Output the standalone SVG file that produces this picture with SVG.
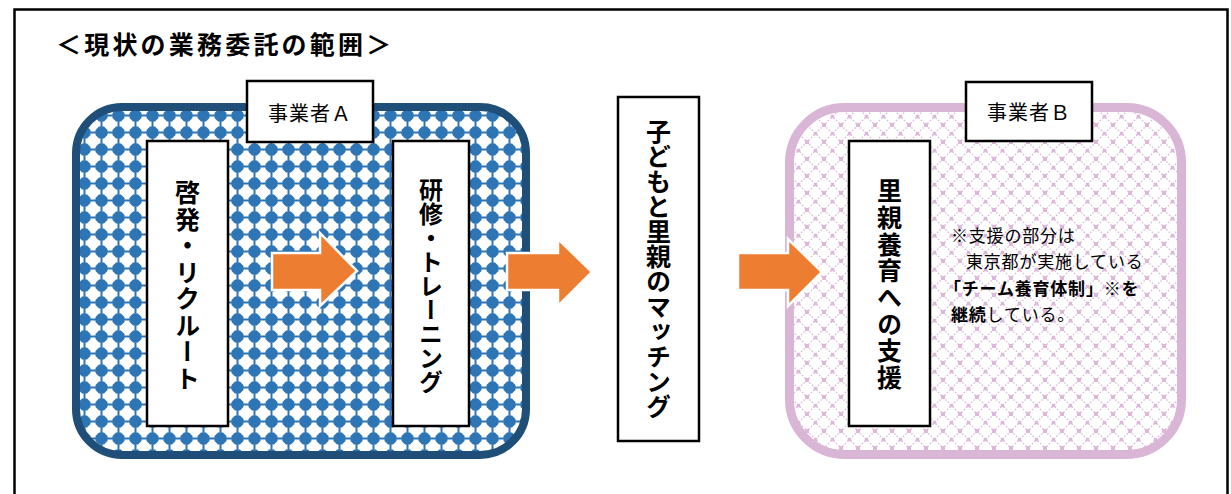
<svg xmlns="http://www.w3.org/2000/svg" width="1231" height="494" viewBox="0 0 1231 494">
<style>
.t{font-family:"Noto Sans CJK JP","Noto Sans CJK SC",sans-serif;fill:#000}
.b{font-weight:bold}
.v{writing-mode:vertical-rl;font-weight:bold;text-anchor:middle}
.box{fill:#fff;stroke:#000;stroke-width:2.5}
.arrow{fill:#ED7D31;stroke:#fff;stroke-width:2.5;stroke-linejoin:miter}
</style>
<defs>
<pattern id="pb" width="17" height="17" patternUnits="userSpaceOnUse" x="76" y="107">
<rect width="17" height="17" fill="#fff"/>
<rect x="0" y="7.5" width="17" height="2" fill="#2E75B6"/>
<rect x="7.5" y="0" width="2" height="17" fill="#2E75B6"/>
<polygon points="6,2.5 11,2.5 14.5,6 14.5,11 11,14.5 6,14.5 2.5,11 2.5,6" fill="#2E75B6"/>
</pattern>
<pattern id="pp" width="17" height="17" patternUnits="userSpaceOnUse" x="790" y="108">
<rect width="17" height="17" fill="#fff"/>
<path d="M0 0L17 17M17 0L0 17" stroke="#DDB8DA" stroke-width="1.4" stroke-dasharray="1.5 1.9"/>
<rect x="-2" y="-2" width="4" height="4" fill="#DDB8DA"/>
<rect x="15" y="-2" width="4" height="4" fill="#DDB8DA"/>
<rect x="-2" y="15" width="4" height="4" fill="#DDB8DA"/>
<rect x="15" y="15" width="4" height="4" fill="#DDB8DA"/>
<rect x="6.8" y="6.8" width="3.4" height="3.4" fill="#DDB8DA"/>
</pattern>
</defs>
<rect x="14.5" y="9.5" width="1213" height="500" fill="#fff" stroke="#000" stroke-width="2.5"/>
<text class="t b" x="56" y="54" font-size="25" letter-spacing="3.2">＜現状の業務委託の範囲＞</text>

<g id="groupA">
<rect x="76" y="107" width="450" height="348" rx="46" fill="url(#pb)" stroke="#1F4E79" stroke-width="8"/>
</g>
<g id="groupB">
<rect x="789.5" y="107.5" width="392" height="347" rx="55" fill="url(#pp)" stroke="#DAB6D6" stroke-width="9"/>
</g>

<g id="labelA">
<rect class="box" x="247" y="81" width="126" height="61"/>
<text class="t" x="310" y="121" font-size="20" letter-spacing="1" text-anchor="middle">事業者Ａ</text>
</g>
<g id="labelB">
<rect class="box" x="966" y="82" width="126" height="59"/>
<text class="t" x="1029" y="120" font-size="20" letter-spacing="1" text-anchor="middle">事業者Ｂ</text>
</g>

<g id="recruit">
<rect class="box" x="147" y="141" width="81" height="285"/>
<text class="t v" x="187.5" y="286" font-size="25" letter-spacing="1.5">啓発・リクルート</text>
</g>
<g id="training">
<rect class="box" x="393" y="141" width="76" height="285"/>
<text class="t v" x="431" y="286" font-size="24">研修・トレーニング</text>
</g>
<g id="matching">
<rect class="box" x="618" y="97" width="81" height="344"/>
<text class="t v" x="658.5" y="269" font-size="25">子どもと里親のマッチング</text>
</g>
<g id="support">
<rect class="box" x="849" y="141" width="81" height="285"/>
<text class="t v" x="889.5" y="285" font-size="25" letter-spacing="1.7">里親養育への支援</text>
</g>

<g id="note">
<text class="t" font-size="17" letter-spacing="0.8">
<tspan x="951" y="242">※支援の部分は</tspan>
<tspan x="966" y="268">東京都が実施している</tspan>
<tspan x="944" y="295" font-weight="bold">「チーム養育体制」※を</tspan>
<tspan x="951" y="321"><tspan font-weight="bold">継続</tspan>している。</tspan>
</text>
</g>

<g id="connectors">
<polygon class="arrow" points="272,253 320,253 320,233 357,271 320,306 320,290 272,290"/>
<polygon class="arrow" points="507,253 558,253 558,239 592,272 558,306 558,290 507,290"/>
<polygon class="arrow" points="738,253 788,253 788,239 822,272 788,306 788,290 738,290"/>
</g>
</svg>
